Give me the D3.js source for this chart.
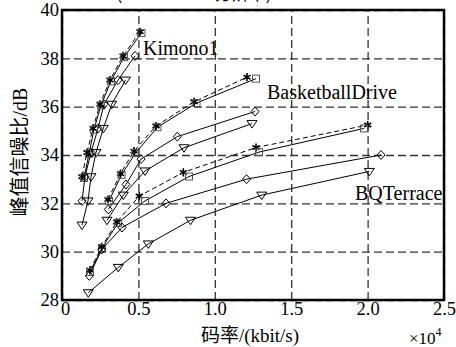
<!DOCTYPE html>
<html>
<head>
<meta charset="utf-8">
<script src="https://cdn.jsdelivr.net/npm/d3@7"></script>
<style>
  body { margin: 0; background: #fff; }
  svg { display: block; }
</style>
</head>
<body>
<svg id="chart" width="456" height="347"></svg>
<script>
// rate in kbit/s, PSNR in dB
var kimonoStar     = [[5105,39.1],[3993,38.1],[3142,37.1],[2487,36.1],[2029,35.1],[1636,34.1],[1309,33.1]];
var kimonoSquare   = [[5200,39.05],[4060,38.05],[3200,37.05],[2550,36.05],[2090,35.05],[1767,34.05],[1440,33.05]];
var kimonoDiamond  = [[4778,38.1],[3665,37.1],[2750,36.1],[2356,35.1],[1898,34.1],[1505,33.1],[1309,32.1]];
var kimonoTriangle = [[4156,37.1],[3253,36.1],[2703,35.1],[2225,34.1],[1898,33.1],[1702,32.1],[1309,31.1]];

var basketStar     = [[3011,32.16],[3829,33.23],[4712,34.16],[6152,35.2],[8640,36.2],[12108,37.22]];
var basketSquare   = [[3076,32.1],[3894,33.18],[4810,34.08],[6250,35.15],[8803,36.15],[12697,37.16]];
var basketDiamond  = [[3030,31.75],[4189,32.78],[5170,33.83],[7546,34.76],[12632,35.8]];
var basketTriangle = [[2945,31.3],[4012,32.34],[5432,33.34],[7985,34.3],[12435,35.3]];

var bqStar     = [[1833,29.24],[2598,30.2],[3580,31.23],[5059,32.3],[7939,33.28],[12697,34.31],[20008,35.24]];
var bqSquare   = [[1833,29.16],[2618,30.15],[3665,31.19],[5432,32.1],[8312,33.11],[12894,34.12],[19766,35.1]];
var bqDiamond  = [[1787,29.0],[2598,30.09],[3927,31.0],[6807,32.0],[12075,33.0],[20879,34.0]];
var bqTriangle = [[1721,28.3],[3685,29.35],[5648,30.32],[8410,31.3],[13070,32.34],[20113,33.32]];

var sequenceNames = ["Kimono1", "BasketballDrive", "BQTerrace"];
var xTicks = [0, 5000, 10000, 15000, 20000, 25000];
var yTicks = [28, 30, 32, 34, 36, 38, 40];

(function() {
    var series = [
        {data: kimonoStar, marker: "star"}, {data: kimonoSquare, marker: "square"},
        {data: kimonoDiamond, marker: "diamond"}, {data: kimonoTriangle, marker: "triangle"},
        {data: basketStar, marker: "star"}, {data: basketSquare, marker: "square"},
        {data: basketDiamond, marker: "diamond"}, {data: basketTriangle, marker: "triangle"},
        {data: bqStar, marker: "star"}, {data: bqSquare, marker: "square"},
        {data: bqDiamond, marker: "diamond"}, {data: bqTriangle, marker: "triangle"}
    ];

    var pl = 62, pr = 444, pt = 10, pb = 300;
    var serif = "'Liberation Serif', 'Times New Roman', serif";
    var cjk = "'Noto Sans CJK SC', sans-serif";

    var x = d3.scaleLinear().domain([0, 25000]).range([pl, pr]);
    var y = d3.scaleLinear().domain([28, 40]).range([pb, pt]);

    var svg = d3.select("#chart");

    // caption cut off at the top edge (only its lower edge shows)
    svg.append("text")
        .attr("x", 194).attr("y", 0)
        .attr("text-anchor", "middle")
        .style("font-family", cjk).style("font-size", "17px")
        .text("(1920×1080分辨率)");

    // grid via axes
    var gx = svg.append("g")
        .attr("transform", "translate(0," + pb + ")")
        .call(d3.axisBottom(x).tickValues(xTicks).tickSize(-(pb - pt)).tickPadding(2)
            .tickFormat(function(d) { return d === 0 ? "0" : (d / 10000).toFixed(1); }));
    var gy = svg.append("g")
        .attr("transform", "translate(" + pl + ",0)")
        .call(d3.axisLeft(y).tickValues(yTicks).tickSize(-(pr - pl)).tickPadding(3));

    [gx, gy].forEach(function(g) {
        g.select(".domain").remove();
        g.selectAll(".tick line")
            .attr("stroke", "#333").attr("stroke-width", 1.3).attr("stroke-dasharray", "8,4");
        g.selectAll(".tick text")
            .attr("fill", "#000").style("font-family", serif).style("font-size", "18.5px");
    });
    gx.selectAll(".tick").filter(function(d) { return d === 0; }).select("text").attr("dx", 3);

    var line = d3.line()
        .x(function(d) { return x(d[0]); })
        .y(function(d) { return y(d[1]); });

    var plot = svg.append("g");

    series.forEach(function(s) {
        plot.append("path")
            .attr("d", line(s.data))
            .attr("fill", "none")
            .attr("stroke", "#000")
            .attr("stroke-width", 1)
            .attr("stroke-dasharray", s.marker === "star" ? "5,3" : null);
    });

    function drawMarker(g, kind) {
        if (kind === "star") {
            g.append("path")
                .attr("d", d3.symbol().type(d3.symbolAsterisk).size(46)())
                .attr("stroke", "#000").attr("stroke-width", 1.6).attr("fill", "none");
        } else if (kind === "square") {
            g.append("rect").attr("x", -3.5).attr("y", -3.5).attr("width", 7).attr("height", 7)
                .attr("fill", "none").attr("stroke", "#555").attr("stroke-width", 1);
        } else if (kind === "diamond") {
            g.append("path").attr("d", "M0,-4.5L4,0L0,4.5L-4,0Z")
                .attr("fill", "none").attr("stroke", "#000").attr("stroke-width", 1);
        } else {
            g.append("path").attr("d", "M-5,-3L5,-3L0,4.5Z")
                .attr("fill", "none").attr("stroke", "#000").attr("stroke-width", 1);
        }
    }

    series.forEach(function(s) {
        plot.selectAll(null)
            .data(s.data)
            .enter().append("g")
            .attr("transform", function(d) { return "translate(" + x(d[0]) + "," + y(d[1]) + ")"; })
            .each(function() { drawMarker(d3.select(this), s.marker); });
    });

    // frame
    svg.append("rect")
        .attr("x", pl).attr("y", pt)
        .attr("width", pr - pl).attr("height", pb - pt)
        .attr("fill", "none").attr("stroke", "#000").attr("stroke-width", 2.5);

    // sequence labels
    var labelPos = [[143, 55], [267, 99], [355, 200]];
    sequenceNames.forEach(function(name, i) {
        svg.append("text")
            .attr("x", labelPos[i][0]).attr("y", labelPos[i][1])
            .style("font-family", serif).style("font-size", "20px")
            .text(name);
    });

    // axis titles
    var xt = svg.append("text")
        .attr("x", 250).attr("y", 342)
        .attr("text-anchor", "middle")
        .style("font-size", "19px");
    xt.append("tspan").style("font-family", cjk).text("码率");
    xt.append("tspan").style("font-family", serif).text("/(kbit/s)");

    var yt = svg.append("text")
        .attr("transform", "translate(27,152) rotate(-90)")
        .attr("text-anchor", "middle")
        .style("font-size", "20px");
    yt.append("tspan").style("font-family", cjk).text("峰值信噪比");
    yt.append("tspan").style("font-family", serif).text("/dB");

    var ex = svg.append("text")
        .attr("x", 409).attr("y", 344)
        .style("font-family", serif).style("font-size", "17px");
    ex.append("tspan").text("×10");
    ex.append("tspan").attr("dy", -8).style("font-size", "12px").text("4");
})();
</script>
</body>
</html>
